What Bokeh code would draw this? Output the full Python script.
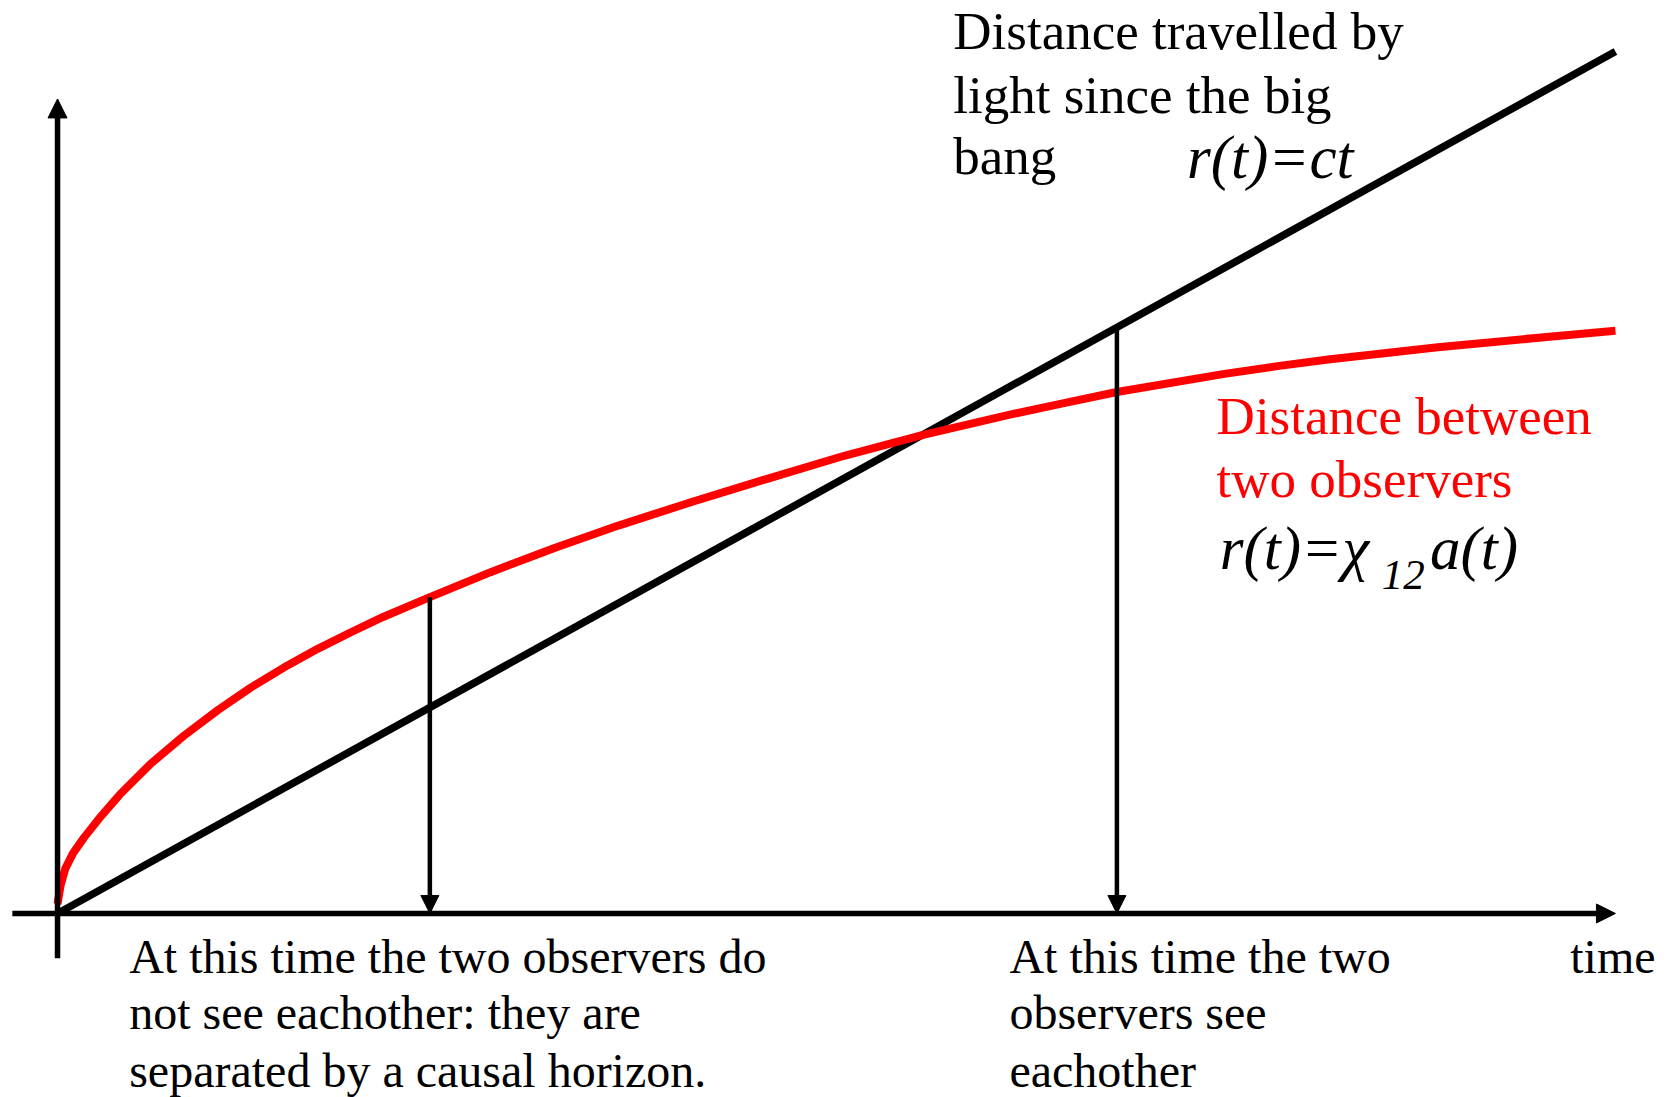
import numpy as np
from bokeh.plotting import figure
from bokeh.models import Arrow, NormalHead, Range1d, Label
from bokeh.embed import file_html
from bokeh.resources import INLINE

# Distance light has covered since the big bang: r(t) = c t
light_t = [0.0, 10.0]
light_r = [0.0, 10.0]

# Proper distance between two comoving observers: r(t) = chi_12 a(t)
sep_t = [0.00, 0.02, 0.05, 0.10, 0.17, 0.28, 0.40, 0.60, 0.81, 1.03, 1.24,
         1.45, 1.67, 1.88, 2.09, 2.39, 2.78, 3.19, 3.60, 4.08, 4.55, 5.05,
         5.55, 6.12, 6.46, 6.80, 7.49, 7.83, 8.17, 8.86, 9.54, 10.0]
sep_r = [0.11, 0.33, 0.52, 0.70, 0.88, 1.13, 1.38, 1.74, 2.06, 2.36, 2.62,
         2.85, 3.07, 3.26, 3.44, 3.67, 3.96, 4.24, 4.50, 4.78, 5.04, 5.31,
         5.55, 5.79, 5.92, 6.05, 6.26, 6.35, 6.43, 6.57, 6.685, 6.76]

# The two moments that are marked on the time axis
obs_before = 2.39   # observers still outside each other's horizon
obs_after = 6.80    # light has had time to connect them

# Extent of the drawn axes
time_axis = [-0.29, 10.0]
dist_axis = [-0.52, 9.45]

SERIF = "Liberation Serif"

p = figure(width=1669, height=1097,
           x_range=Range1d(-0.366, 10.347), y_range=Range1d(-2.135, 10.592),
           x_axis_location=None, y_axis_location=None,
           toolbar_location=None, output_backend="svg",
           min_border=0, outline_line_color=None)
p.xgrid.visible = False
p.ygrid.visible = False
p.background_fill_color = "white"
p.border_fill_color = "white"


def head(size):
    return NormalHead(size=size, fill_color="black", line_color="black", line_width=1)


# axes with arrow heads
p.add_layout(Arrow(end=head(19), x_start=time_axis[0], y_start=0,
                   x_end=time_axis[1], y_end=0,
                   line_color="black", line_width=5.5))
p.add_layout(Arrow(end=head(19), x_start=0, y_start=dist_axis[0],
                   x_end=0, y_end=dist_axis[1],
                   line_color="black", line_width=5.5))

# the two curves
p.line(light_t, light_r, line_color="black", line_width=7.5)
p.line(sep_t, sep_r, line_color="#ff0000", line_width=8, line_join="round")

# vertical markers dropping onto the time axis
top_before = float(np.interp(obs_before, sep_t, sep_r))
top_after = float(np.interp(obs_after, light_t, light_r))
for t0, r0 in [(obs_before, top_before), (obs_after, top_after)]:
    p.add_layout(Arrow(end=head(18), x_start=t0, y_start=r0, x_end=t0, y_end=0,
                       line_color="black", line_width=4.5))


def label(x, y, text, size, color="black", style="normal"):
    p.add_layout(Label(x=x, y=y, text=text, text_font=SERIF,
                       text_font_size=size, text_color=color,
                       text_font_style=style, text_baseline="alphabetic",
                       text_align="left"))


# light-travel caption
label(5.75, 10.24, "Distance travelled by", "53px")
label(5.75, 9.50, "light since the big", "53px")
label(5.75, 8.79, "bang", "53px")
label(7.25, 8.77, "r(t)=ct", "61px", style="italic")

# observer separation caption
label(7.44, 5.77, "Distance between", "53px", color="#ff0000")
label(7.44, 5.04, "two observers", "53px", color="#ff0000")
label(7.46, 4.23, "r(t)=\u03c7", "61px", style="italic")
label(8.50, 3.93, "12", "43px", style="italic")
label(8.81, 4.23, "a(t)", "61px", style="italic")

# captions under the time axis
label(0.46, -0.50, "At this time the two observers do", "48px")
label(0.46, -1.15, "not see eachother: they are", "48px")
label(0.46, -1.82, "separated by a causal horizon.", "48px")

label(6.11, -0.50, "At this time the two", "48px")
label(6.11, -1.15, "observers see", "48px")
label(6.11, -1.82, "eachother", "48px")

label(9.71, -0.50, "time", "48px")

open("out.html", "w").write(file_html(p, INLINE))
